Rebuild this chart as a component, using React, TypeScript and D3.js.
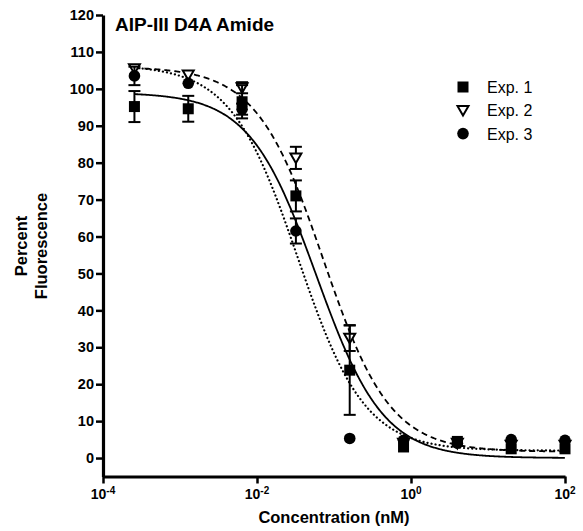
import React, { useRef, useEffect } from 'react';
import * as d3 from 'd3';

// concentrations (nM), 5-fold dilution series
const concentrations = [0.000256, 0.00128, 0.0064, 0.032, 0.16, 0.8, 4, 20, 100];

const exp1Values = [95.2, 94.6, 96.5, 71.0, 23.8, 3.0, 4.5, 2.5, 2.5];
const exp1Errors = [4.2, 3.5, 4.5, 4.2, 12.1, 0, 0, 0, 0];
const exp2Values = [105.5, 103.8, 100.3, 81.3, 32.5, 4.0, 4.0, 3.5, 3.5];
const exp2Errors = [0, 0, 1.5, 3.0, 3.5, 0, 0, 0, 0];
const exp3Values = [103.5, 101.5, 94.5, 61.5, 5.3, 4.8, 4.0, 5.0, 4.8];
const exp3Errors = [2.5, 0, 1.5, 3.4, 0, 0, 0, 0, 0];

// fitted dose-response params: [top, bottom, logIC50, hill]
const exp1Fit = [99, 0, -1.23, 1.0];
const exp2Fit = [106, 1.7, -1.14, 1.0];
const exp3Fit = [106.5, 2, -1.47, 1.0];

const seriesNames = ['Exp. 1', 'Exp. 2', 'Exp. 3'];
const yTicks = [0, 10, 20, 30, 40, 50, 60, 70, 80, 90, 100, 110, 120];
const xTicks = [1e-4, 1e-2, 1, 1e2];

const FONT = "Arial, 'Liberation Sans', sans-serif";

const App = () => {
    const ref = useRef(null);

    useEffect(() => {
        const svg = d3.select(ref.current);
        svg.selectAll('*').remove();

        const x = d3.scaleLog().domain([1e-4, 1e2]).range([103, 565]);
        const y = d3.scaleLinear().domain([-5, 120]).range([476.5, 15]);

        // fitted curves: solid, dashed, dotted
        const fits = [exp1Fit, exp2Fit, exp3Fit];
        const logs = d3.range(Math.log10(concentrations[0]), 2.0001, 0.01);
        const line = d3.line().x(d => x(Math.pow(10, d[0]))).y(d => y(d[1]));
        fits.forEach((f, i) => {
            const [top, bottom, logEC, h] = f;
            const pts = logs.map(l => [l, bottom + (top - bottom) / (1 + Math.pow(10, (l - logEC) * h))]);
            svg.append('path')
                .attr('d', line(pts))
                .attr('fill', 'none')
                .attr('stroke', '#000')
                .attr('stroke-width', i === 2 ? 2.2 : 1.8)
                .attr('stroke-linecap', i === 2 ? 'round' : 'butt')
                .attr('stroke-dasharray', i === 0 ? null : (i === 2 ? '0.1,4' : '6,4'));
        });

        // markers
        const drawMarker = (g, kind, cx, cy) => {
            if (kind === 0) {
                g.append('rect').attr('x', cx - 5.5).attr('y', cy - 5.5).attr('width', 11).attr('height', 11).attr('fill', '#000');
            } else if (kind === 1) {
                const s = 5.5;
                g.append('path')
                    .attr('d', `M${cx - s},${cy - s * 0.8}L${cx + s},${cy - s * 0.8}L${cx},${cy + s * 0.95}Z`)
                    .attr('fill', '#fff').attr('stroke', '#000').attr('stroke-width', 2);
            } else {
                g.append('circle').attr('cx', cx).attr('cy', cy).attr('r', 5.8).attr('fill', '#000');
            }
        };

        const series = [
            [exp1Values, exp1Errors],
            [exp2Values, exp2Errors],
            [exp3Values, exp3Errors]
        ];
        // triangles underneath, then squares, then circles
        [1, 0, 2].forEach(k => {
            const [vals, errs] = series[k];
            const g = svg.append('g');
            vals.forEach((v, i) => {
                const cx = x(concentrations[i]);
                const e = errs[i];
                if (e > 0) {
                    g.append('line').attr('x1', cx).attr('x2', cx).attr('y1', y(v - e)).attr('y2', y(v + e))
                        .attr('stroke', '#000').attr('stroke-width', 2);
                    [v - e, v + e].forEach(ev => {
                        g.append('line').attr('x1', cx - 6).attr('x2', cx + 6).attr('y1', y(ev)).attr('y2', y(ev))
                            .attr('stroke', '#000').attr('stroke-width', 2);
                    });
                }
                drawMarker(g, k, cx, y(v));
            });
        });

        // y axis
        const yAxis = svg.append('g')
            .attr('transform', 'translate(103,0)')
            .call(d3.axisLeft(y).tickValues(yTicks).tickSize(7).tickSizeOuter(0).tickPadding(2));
        yAxis.select('.domain').attr('stroke-width', 3.2);
        yAxis.selectAll('.tick line').attr('stroke-width', 2.5);
        yAxis.selectAll('.tick text')
            .attr('font-family', FONT).attr('font-weight', 'bold').attr('font-size', 14.5).attr('fill', '#000');

        // x axis
        const xAxis = svg.append('g')
            .attr('transform', 'translate(0,476.5)')
            .call(d3.axisBottom(x).tickValues(xTicks).tickSize(7).tickSizeOuter(0).tickFormat(() => ''));
        xAxis.select('.domain').attr('stroke-width', 3.2);
        xAxis.selectAll('.tick line').attr('stroke-width', 2.5);
        xTicks.forEach(t => {
            const txt = svg.append('text')
                .attr('x', x(t)).attr('y', 499)
                .attr('text-anchor', 'middle')
                .attr('font-family', FONT).attr('font-weight', 'bold').attr('font-size', 14);
            txt.append('tspan').text('10');
            txt.append('tspan').attr('dy', -5).attr('font-size', 10).text(String(Math.round(Math.log10(t))));
        });

        // titles
        svg.append('text')
            .attr('x', 115).attr('y', 31)
            .attr('font-family', FONT).attr('font-weight', 'bold').attr('font-size', 19)
            .text('AIP-III D4A Amide');

        svg.append('text')
            .attr('x', 334).attr('y', 523)
            .attr('text-anchor', 'middle')
            .attr('font-family', FONT).attr('font-weight', 'bold').attr('font-size', 16.5)
            .text('Concentration (nM)');

        const yTitle = svg.append('text')
            .attr('transform', 'translate(0,246) rotate(-90)')
            .attr('text-anchor', 'middle')
            .attr('font-family', FONT).attr('font-weight', 'bold').attr('font-size', 16.5);
        yTitle.append('tspan').attr('x', 0).attr('y', 27).text('Percent');
        yTitle.append('tspan').attr('x', 0).attr('y', 47).text('Fluorescence');

        // legend
        seriesNames.forEach((name, k) => {
            const cy = 87 + k * 23.3;
            const g = svg.append('g');
            drawMarker(g, k, 463, cy);
            g.append('text')
                .attr('x', 487).attr('y', cy + 6)
                .attr('font-family', FONT).attr('font-size', 16)
                .text(name);
        });
    }, []);

    return (
        <svg ref={ref} width={583} height={531}
            style={{ position: 'absolute', left: 0, top: 0, background: '#fff' }} />
    );
};

export default App;
